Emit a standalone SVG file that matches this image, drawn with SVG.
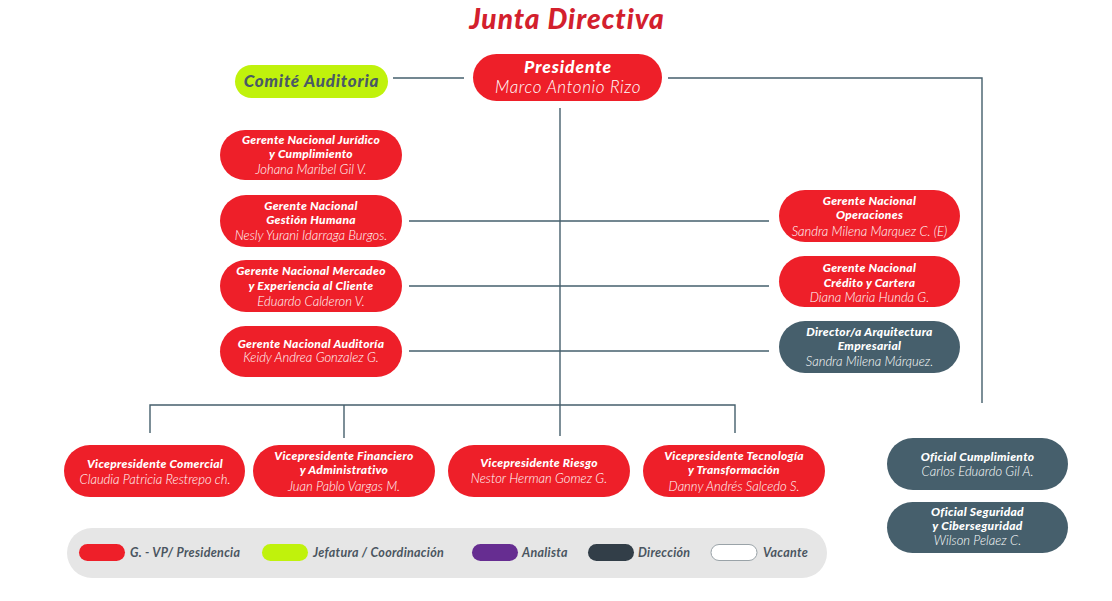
<svg xmlns="http://www.w3.org/2000/svg" width="1112" height="601" viewBox="0 0 1112 601">
<style>
.red{fill:#ee1f29}
.slate{fill:#465f6c}
.ln{stroke:#455f6c;stroke-width:1.4;fill:none}
.t{font-family:Lato,"Open Sans",sans-serif;font-style:italic;fill:#fff;text-anchor:middle}
.b{font-weight:900;font-size:12px;letter-spacing:0.3px}
.n{font-weight:300;font-size:13px;letter-spacing:0px}
.lg{font-family:Lato,"Open Sans",sans-serif;font-style:italic;font-weight:700;font-size:12.5px;fill:#4a5560;letter-spacing:0.3px}
</style>
<rect width="1112" height="601" fill="#fff"/>
<text x="567" y="29" style="font-family:Lato,sans-serif;font-style:italic;font-weight:900;font-size:28px;fill:#d3202d;text-anchor:middle;letter-spacing:1px">Junta Directiva</text>

<g id="connectors">
<line class="ln" x1="393" y1="78" x2="464" y2="78"/>
<polyline class="ln" points="668,78 982,78 982,403"/>
<line class="ln" x1="560" y1="108" x2="560" y2="436"/>
<line class="ln" x1="409" y1="221" x2="769" y2="221"/>
<line class="ln" x1="409" y1="286" x2="769" y2="286"/>
<line class="ln" x1="409" y1="351" x2="769" y2="351"/>
<polyline class="ln" points="150,433 150,405 735,405 735,433"/>
<line class="ln" x1="344" y1="405" x2="344" y2="438"/>
</g>

<g id="comite">
<rect x="235" y="65" width="153" height="33" rx="16.5" fill="#c0f20c"/>
<text x="311.5" y="87" style="font-family:Lato,sans-serif;font-style:italic;font-weight:900;font-size:17px;fill:#4a5a66;text-anchor:middle;letter-spacing:0.8px">Comité Auditoria</text>
</g>

<g id="presidente">
<rect class="red" x="473" y="54" width="189" height="47" rx="23.5"/>
<text class="t" x="568" y="73" style="font-weight:900;font-size:17.5px;letter-spacing:0.9px">Presidente</text>
<text class="t" x="568" y="93" style="font-weight:300;font-size:17px;letter-spacing:0.6px">Marco Antonio Rizo</text>
</g>

<g id="g-juridico">
<rect class="red" x="220" y="130" width="182" height="50" rx="25"/>
<text class="t b" x="311" y="144">Gerente Nacional Jurídico</text>
<text class="t b" x="311" y="158">y Cumplimiento</text>
<text class="t n" x="311" y="174">Johana Maribel Gil V.</text>
</g>

<g id="g-humana">
<rect class="red" x="220" y="195" width="182" height="52" rx="26"/>
<text class="t b" x="311" y="210">Gerente Nacional</text>
<text class="t b" x="311" y="224">Gestión Humana</text>
<text class="t n" x="311" y="240">Nesly Yurani Idarraga Burgos.</text>
</g>

<g id="g-mercadeo">
<rect class="red" x="220" y="260" width="182" height="52" rx="26"/>
<text class="t b" x="311" y="275">Gerente Nacional Mercadeo</text>
<text class="t b" x="311" y="290">y Experiencia al Cliente</text>
<text class="t n" x="311" y="306">Eduardo Calderon V.</text>
</g>

<g id="g-auditoria">
<rect class="red" x="220" y="326" width="182" height="51" rx="25.5"/>
<text class="t b" x="311" y="348">Gerente Nacional Auditoría</text>
<text class="t n" x="311" y="362">Keidy Andrea Gonzalez G.</text>
</g>

<g id="g-operaciones">
<rect class="red" x="779" y="190" width="181" height="52" rx="26"/>
<text class="t b" x="869.5" y="205">Gerente Nacional</text>
<text class="t b" x="869.5" y="219">Operaciones</text>
<text class="t n" x="869.5" y="236">Sandra Milena Marquez C. (E)</text>
</g>

<g id="g-credito">
<rect class="red" x="779" y="256" width="181" height="51" rx="25.5"/>
<text class="t b" x="869.5" y="272">Gerente Nacional</text>
<text class="t b" x="869.5" y="287">Crédito y Cartera</text>
<text class="t n" x="869.5" y="302">Diana Maria Hunda G.</text>
</g>

<g id="d-arquitectura">
<rect class="slate" x="779" y="321" width="181" height="52" rx="26"/>
<text class="t b" x="869.5" y="336">Director/a Arquitectura</text>
<text class="t b" x="869.5" y="350">Empresarial</text>
<text class="t n" x="869.5" y="366">Sandra Milena Márquez.</text>
</g>

<g id="vp-comercial">
<rect class="red" x="64" y="445" width="181" height="52" rx="26"/>
<text class="t b" x="155" y="468">Vicepresidente Comercial</text>
<text class="t n" x="155" y="484">Claudia Patricia  Restrepo ch.</text>
</g>

<g id="vp-financiero">
<rect class="red" x="253" y="445" width="182" height="52" rx="26"/>
<text class="t b" x="344" y="460">Vicepresidente Financiero</text>
<text class="t b" x="344" y="474">y Administrativo</text>
<text class="t n" x="344" y="491">Juan Pablo Vargas M.</text>
</g>

<g id="vp-riesgo">
<rect class="red" x="448" y="445" width="182" height="52" rx="26"/>
<text class="t b" x="539" y="467">Vicepresidente Riesgo</text>
<text class="t n" x="539" y="483">Nestor Herman Gomez G.</text>
</g>

<g id="vp-tecnologia">
<rect class="red" x="643" y="445" width="182" height="52" rx="26"/>
<text class="t b" x="734" y="460">Vicepresidente Tecnología</text>
<text class="t b" x="734" y="474">y Transformación</text>
<text class="t n" x="734" y="491">Danny Andrés Salcedo S.</text>
</g>

<g id="of-cumplimiento">
<rect class="slate" x="887" y="438" width="181" height="52" rx="26"/>
<text class="t b" x="977.5" y="461">Oficial Cumplimiento</text>
<text class="t n" x="977.5" y="476">Carlos Eduardo Gil A.</text>
</g>

<g id="of-seguridad">
<rect class="slate" x="887" y="502" width="181" height="51" rx="25.5"/>
<text class="t b" x="977.5" y="516">Oficial  Seguridad</text>
<text class="t b" x="977.5" y="530">y Ciberseguridad</text>
<text class="t n" x="977.5" y="545">Wilson Pelaez C.</text>
</g>

<g id="legend">
<rect x="67" y="528" width="760" height="50" rx="25" fill="#e6e6e6"/>
<rect x="79" y="544" width="46" height="17" rx="8.5" fill="#ee1f29"/>
<text class="lg" x="130" y="557">G. - VP/ Presidencia</text>
<rect x="262" y="544" width="46" height="17" rx="8.5" fill="#c0f20c"/>
<text class="lg" x="313" y="557">Jefatura / Coordinación</text>
<rect x="472" y="544" width="46" height="17" rx="8.5" fill="#662d91"/>
<text class="lg" x="522" y="557">Analista</text>
<rect x="588" y="544" width="46" height="17" rx="8.5" fill="#323e48"/>
<text class="lg" x="638" y="557">Dirección</text>
<rect x="711" y="544.5" width="46" height="16" rx="8" fill="#fff" stroke="#9aa3a8" stroke-width="1"/>
<text class="lg" x="763" y="557">Vacante</text>
</g>
</svg>
